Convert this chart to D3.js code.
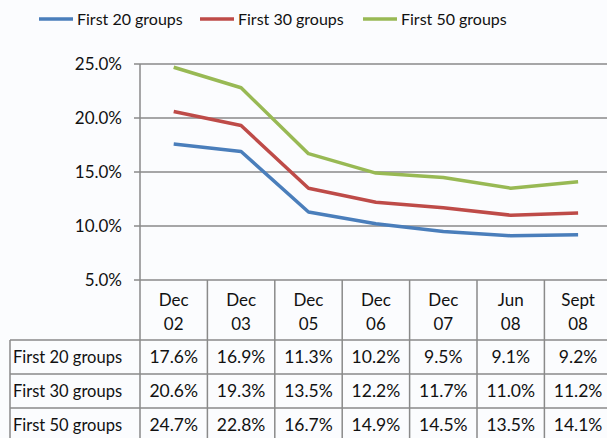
<!DOCTYPE html>
<html>
<head>
<meta charset="utf-8">
<script src="https://cdn.jsdelivr.net/npm/d3@7"></script>
<style>
  body { margin: 0; background: #fbfcfe; }
  svg { display: block; font-family: Lato, "Open Sans", sans-serif; }
</style>
</head>
<body>
<svg id="chart" width="607" height="438"></svg>
<script>
var categories = ["Dec 02", "Dec 03", "Dec 05", "Dec 06", "Dec 07", "Jun 08", "Sept 08"];
var seriesNames = ["First 20 groups", "First 30 groups", "First 50 groups"];
var first20 = [17.6, 16.9, 11.3, 10.2, 9.5, 9.1, 9.2];
var first30 = [20.6, 19.3, 13.5, 12.2, 11.7, 11.0, 11.2];
var first50 = [24.7, 22.8, 16.7, 14.9, 14.5, 13.5, 14.1];
var yTicks = [5, 10, 15, 20, 25];
var colors = ["#4a7ebb", "#be4b48", "#98b954"];

var series = [first20, first30, first50];

var svg = d3.select("#chart");

var plotLeft = 140, plotRight = 611.8, plotTop = 64, axisY = 280;
var headerH = 60, rowH = 34, labelLeft = 10;

var x = d3.scaleBand().domain(categories).range([plotLeft, plotRight]).padding(0);
var y = d3.scaleLinear().domain([5, 25]).range([axisY, plotTop]);

// gridlines
svg.append("g")
    .selectAll("line")
    .data(yTicks)
    .enter().append("line")
    .attr("x1", plotLeft - 6)
    .attr("x2", 607)
    .attr("y1", function (d) { return y(d); })
    .attr("y2", function (d) { return y(d); })
    .attr("stroke", "#8a8a8a")
    .attr("stroke-width", 1.3);

// y labels
svg.append("g")
    .selectAll("text")
    .data(yTicks)
    .enter().append("text")
    .attr("x", 122)
    .attr("y", function (d) { return y(d); })
    .attr("dy", "0.35em")
    .attr("text-anchor", "end")
    .attr("font-size", 17)
    .attr("fill", "#111")
    .text(function (d) { return d.toFixed(1) + "%"; });

// vertical axis
svg.append("line")
    .attr("x1", plotLeft).attr("x2", plotLeft)
    .attr("y1", plotTop).attr("y2", axisY + headerH + rowH * 3)
    .attr("stroke", "#8a8a8a").attr("stroke-width", 1.5);

// lines
var line = d3.line()
    .x(function (d, i) { return x(categories[i]) + x.bandwidth() / 2; })
    .y(function (d) { return y(d); });

svg.append("g")
    .selectAll("path")
    .data(series)
    .enter().append("path")
    .attr("d", line)
    .attr("fill", "none")
    .attr("stroke", function (d, i) { return colors[i]; })
    .attr("stroke-width", 3.5)
    .attr("stroke-linejoin", "round");

// data table
var table = svg.append("g");
var tableBottom = axisY + headerH + rowH * 3;

// column separators
table.selectAll(".col")
    .data(categories)
    .enter().append("line")
    .attr("x1", function (d) { return x(d) + x.bandwidth(); })
    .attr("x2", function (d) { return x(d) + x.bandwidth(); })
    .attr("y1", axisY)
    .attr("y2", tableBottom)
    .attr("stroke", "#8a8a8a").attr("stroke-width", 1.5);

// row lines
table.selectAll(".row")
    .data([0, 1, 2, 3])
    .enter().append("line")
    .attr("x1", labelLeft)
    .attr("x2", 607)
    .attr("y1", function (d) { return axisY + headerH + d * rowH; })
    .attr("y2", function (d) { return axisY + headerH + d * rowH; })
    .attr("stroke", "#8a8a8a").attr("stroke-width", 1.5);

table.append("line")
    .attr("x1", labelLeft).attr("x2", labelLeft)
    .attr("y1", axisY + headerH).attr("y2", tableBottom)
    .attr("stroke", "#8a8a8a").attr("stroke-width", 1.5);

// header text
categories.forEach(function (c) {
    var parts = c.split(" ");
    var t = table.append("text")
        .attr("text-anchor", "middle")
        .attr("font-size", 17)
        .attr("fill", "#111");
    t.append("tspan")
        .attr("x", x(c) + x.bandwidth() / 2)
        .attr("y", 306)
        .text(parts[0]);
    t.append("tspan")
        .attr("x", x(c) + x.bandwidth() / 2)
        .attr("y", 330)
        .text(parts[1]);
});

// row labels and values
series.forEach(function (s, r) {
    var cy = axisY + headerH + r * rowH + rowH / 2;
    table.append("text")
        .attr("x", 13)
        .attr("y", cy)
        .attr("dy", "0.35em")
        .attr("font-size", 16.5)
        .attr("fill", "#111")
        .text(seriesNames[r]);
    table.selectAll(".v" + r)
        .data(s)
        .enter().append("text")
        .attr("x", function (d, i) { return x(categories[i]) + x.bandwidth() / 2; })
        .attr("y", cy)
        .attr("dy", "0.35em")
        .attr("text-anchor", "middle")
        .attr("font-size", 17.5)
        .attr("fill", "#111")
        .text(function (d) { return d.toFixed(1) + "%"; });
});

// legend
var legendX = [39, 200, 363];
var legend = svg.append("g")
    .selectAll("g")
    .data(seriesNames)
    .enter().append("g")
    .attr("transform", function (d, i) { return "translate(" + legendX[i] + ",19)"; });

legend.append("line")
    .attr("x1", 0).attr("x2", 34)
    .attr("stroke", function (d, i) { return colors[i]; })
    .attr("stroke-width", 3.5);

legend.append("text")
    .attr("x", 38)
    .attr("dy", "0.35em")
    .attr("font-size", 16)
    .attr("fill", "#111")
    .text(function (d) { return d; });
</script>
</body>
</html>
